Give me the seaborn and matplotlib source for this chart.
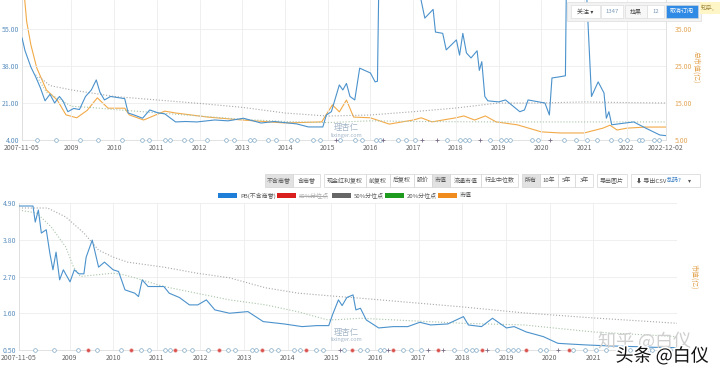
import matplotlib
matplotlib.use("Agg")
import matplotlib.pyplot as plt
import matplotlib.patheffects as pe
from matplotlib.patches import Rectangle
from matplotlib.lines import Line2D
import seaborn as sns
import pandas as pd

# ---- data ----
start_date = "2007-11-05"
end_date = "2022-12-02"

# top panel: PE (left axis)
pe_dates = ["2007-11-05", "2007-12-01", "2008-01-20", "2008-03-01", "2008-04-10", "2008-05-20",
            "2008-07-01", "2008-08-10", "2008-09-20", "2008-10-20", "2008-12-01", "2009-01-20",
            "2009-03-10", "2009-05-01", "2009-06-20", "2009-08-01", "2009-09-01", "2009-10-10",
            "2009-12-01", "2010-02-01", "2010-04-01", "2010-05-01", "2010-06-20", "2010-09-01",
            "2010-11-01", "2011-01-10", "2011-03-10", "2011-06-10", "2011-09-01", "2011-12-10",
            "2012-05-10", "2012-09-01", "2013-01-10", "2013-06-10", "2013-10-01", "2014-04-10",
            "2014-07-20", "2014-11-20", "2014-12-20", "2015-02-01", "2015-04-10", "2015-05-10",
            "2015-06-10", "2015-07-10", "2015-08-20", "2015-10-01", "2016-01-01", "2016-02-10",
            "2016-03-01", "2016-03-15", "2016-08-01", "2017-01-01", "2017-03-10", "2017-04-10",
            "2017-06-20", "2017-07-10", "2017-09-10", "2017-10-10", "2018-01-05", "2018-02-01",
            "2018-03-01", "2018-04-01", "2018-05-10", "2018-07-01", "2018-07-20", "2018-08-10",
            "2018-09-05", "2018-10-01", "2019-01-01", "2019-03-01", "2019-07-01", "2019-08-10",
            "2019-09-10", "2020-02-01", "2020-03-10", "2020-04-01", "2020-06-01", "2020-07-25",
            "2020-08-05", "2021-01-01", "2021-03-05", "2021-05-01", "2021-06-20", "2021-07-10",
            "2021-08-01", "2021-08-25", "2022-03-01", "2022-06-10", "2022-10-10", "2022-12-02"]
pe_values = [51, 45, 37.5, 33, 28, 22, 25, 21, 24, 22, 17, 18.5,
             18, 24, 27, 31.6, 26, 22.4, 24, 23.5, 23, 16.4, 15.5, 14,
             17.8, 16.5, 16, 12.3, 12.5, 12.3, 13.2, 12.8, 14, 11.8, 12.5, 11.4,
             10, 10, 15.5, 17, 29.3, 27, 30, 24, 22.4, 37, 34.8, 30.7,
             31, 85, 95, 90, 68, 60, 64, 53.6, 53, 45.4, 50, 43,
             53, 44, 41.7, 45, 36, 40, 24, 22, 21.5, 22.4, 17, 17.8,
             22.4, 21, 15.5, 32.5, 33, 33.5, 90, 95, 24, 30.7, 25.6, 14,
             17, 11, 12.3, 9.5, 6.3, 6]

pe_p50_dates = ["2008-04-01", "2008-07-01", "2009-01-01", "2010-01-01", "2011-01-01", "2012-01-01",
                "2013-01-01", "2014-01-01", "2015-01-01", "2016-01-01", "2017-01-01", "2018-01-01",
                "2019-01-01", "2020-01-01", "2021-01-01", "2022-01-01", "2022-12-02"]
pe_p50_values = [33, 29, 27, 24, 22.4, 20.8, 19, 16.4, 15, 15.5, 17, 18.7, 21, 21, 21.5, 21.2, 21]
pe_p20_dates = ["2008-03-01", "2008-06-01", "2009-01-01", "2009-06-01", "2010-01-01", "2011-01-01",
                "2012-01-01", "2013-01-01", "2014-01-01", "2015-01-01", "2016-01-01", "2017-01-01",
                "2018-01-01", "2019-01-01", "2020-01-01", "2021-01-01", "2022-01-01", "2022-12-02"]
pe_p20_values = [34, 26, 19.5, 19, 18, 16.5, 15, 13.5, 12.5, 12, 12.8, 12.5, 12.4, 12.3, 12.3, 12.3, 12.3, 12.3]

# top panel: market cap (right axis)
cap_dates = ["2007-11-05", "2007-11-25", "2007-12-15", "2008-01-20", "2008-03-10", "2008-06-01",
             "2008-09-01", "2008-11-15", "2009-02-15", "2009-05-15", "2009-08-10", "2009-11-10",
             "2010-04-01", "2010-05-10", "2010-09-10", "2011-03-10", "2011-06-10", "2012-03-10",
             "2013-01-01", "2014-01-01", "2014-11-10", "2015-02-10", "2015-04-10", "2015-06-10",
             "2015-08-10", "2016-01-01", "2016-06-10", "2017-01-01", "2017-03-10", "2017-06-10",
             "2018-01-01", "2018-03-10", "2018-06-10", "2018-09-10", "2018-12-10", "2019-06-10",
             "2020-01-01", "2020-06-10", "2021-01-01", "2021-06-10", "2021-08-10", "2021-10-10",
             "2022-01-01", "2022-06-10", "2022-12-02"]
cap_values = [50, 44, 37, 30.7, 24.5, 18.5, 15.8, 11.8, 11, 13, 16.4, 13.6,
              13.6, 11.8, 10.4, 12.8, 12.3, 11.2, 10.4, 9.6, 9.9, 14.5, 12.6, 15.8,
              11.2, 11, 9.3, 10.4, 11, 9.9, 11, 11.5, 10.4, 11.5, 9.9, 9.1,
              7.2, 6.9, 6.9, 8.2, 9, 7.7, 8.2, 8.5, 8.5]

# bottom panel: PB (left axis)
pb_dates = ["2007-11-05", "2008-03-01", "2008-03-20", "2008-04-15", "2008-05-10", "2008-06-20",
            "2008-07-20", "2008-08-15", "2008-09-10", "2008-10-10", "2008-11-10", "2009-01-05",
            "2009-02-10", "2009-03-20", "2009-05-01", "2009-05-20", "2009-07-10", "2009-09-01",
            "2009-10-20", "2010-01-01", "2010-02-15", "2010-04-10", "2010-07-01", "2010-08-01",
            "2010-09-01", "2010-10-20", "2011-03-01", "2011-04-15", "2011-07-10", "2011-10-01",
            "2011-12-10", "2012-02-20", "2012-05-01", "2012-09-01", "2013-02-01", "2013-06-10",
            "2013-12-01", "2014-05-01", "2014-09-01", "2014-12-10", "2015-01-10", "2015-03-01",
            "2015-04-01", "2015-05-10", "2015-07-01", "2015-07-25", "2015-09-01", "2015-10-20",
            "2016-02-01", "2016-06-01", "2016-10-01", "2017-01-10", "2017-04-10", "2017-09-01",
            "2018-01-10", "2018-02-20", "2018-06-10", "2018-09-10", "2019-01-05", "2019-03-10",
            "2019-06-20", "2019-11-10", "2020-03-10", "2020-06-10", "2020-11-10", "2021-06-01",
            "2022-01-01", "2022-06-01", "2022-12-02"]
pb_values = [4.81, 4.81, 4.33, 4.69, 4.0, 4.1, 3.4, 2.9, 3.43, 2.6, 2.9, 2.54,
             2.9, 2.78, 2.78, 3.28, 3.79, 2.98, 3.13, 2.9, 2.85, 2.3, 2.2, 2.1,
             2.6, 2.4, 2.4, 2.2, 2.07, 1.85, 1.85, 2.0, 1.7, 1.6, 1.65, 1.35,
             1.28, 1.2, 1.23, 1.23, 1.55, 2.0, 1.83, 2.07, 2.15, 1.7, 1.75, 1.4,
             1.16, 1.2, 1.2, 1.33, 1.25, 1.28, 1.5, 1.25, 1.2, 1.45, 1.16, 1.2,
             1.04, 0.9, 0.7, 0.68, 0.65, 0.62, 0.6, 0.58, 0.57]

pb_p50_dates = ["2007-11-05", "2008-07-01", "2008-12-01", "2009-05-01", "2009-09-01", "2010-01-01",
                "2010-05-01", "2011-03-01", "2011-12-01", "2012-09-01", "2013-07-01", "2014-04-01",
                "2015-03-01", "2015-09-01", "2018-01-01", "2019-06-01", "2021-01-01", "2022-12-02"]
pb_p50_values = [4.75, 4.75, 4.48, 4.0, 3.49, 3.28, 3.13, 2.98, 2.8, 2.66, 2.36, 2.2,
                 2.1, 2.05, 1.79, 1.61, 1.46, 1.3]
pb_p20_dates = ["2007-11-05", "2008-04-01", "2008-08-01", "2008-12-01", "2009-02-01", "2009-04-01",
                "2010-01-01", "2010-04-01", "2010-07-01", "2011-03-01", "2011-12-01", "2012-09-01",
                "2013-07-01", "2014-04-01", "2014-12-01", "2015-03-01", "2015-09-01", "2018-01-01",
                "2019-06-01", "2021-01-01", "2022-12-02"]
pb_p20_values = [4.69, 4.6, 4.18, 3.58, 3.0, 2.7, 2.8, 2.75, 2.66, 2.4, 2.2, 2.0,
                 1.85, 1.64, 1.4, 1.41, 1.45, 1.3, 1.25, 1.04, 0.9]

# event markers along the date axis
event_dates = ["2008-03-15", "2008-08-20", "2009-03-15", "2009-08-20", "2010-03-10", "2010-08-25",
               "2010-10-25", "2011-03-10", "2011-04-20", "2011-08-20", "2011-10-20", "2012-03-05",
               "2012-08-15", "2012-10-20", "2013-03-05", "2013-04-10", "2013-08-10", "2013-10-15",
               "2014-02-20", "2014-04-10", "2014-08-25", "2014-10-25", "2015-04-20", "2015-08-25",
               "2015-10-25", "2016-02-15", "2016-03-20", "2016-08-20", "2016-11-01", "2017-01-20",
               "2017-10-20", "2018-02-01", "2018-03-20", "2018-04-25", "2018-10-20", "2019-01-20",
               "2019-03-01", "2019-04-10", "2019-10-15", "2019-12-01", "2020-07-15", "2020-10-20",
               "2021-01-25", "2021-04-20", "2021-08-15", "2021-11-05", "2022-01-05", "2022-04-15",
               "2022-05-10", "2022-08-20", "2022-10-01"]
plus_dates = ["2015-03-10", "2016-04-15", "2017-03-20", "2017-07-25", "2018-07-30", "2020-03-15"]
dividend_dates = ["2009-06-01", "2010-06-01", "2011-06-01", "2012-06-01", "2013-06-01", "2014-06-01",
                  "2015-06-20", "2016-06-01", "2017-06-15", "2018-06-15", "2019-06-15", "2020-06-15"]

top_left_ticks = [4, 21, 38, 55]
top_right_ticks = [5, 15, 25, 35]
bottom_left_ticks = [0.5, 1.6, 2.7, 3.8, 4.9]
top_years = list(range(2009, 2023))
bottom_years = list(range(2009, 2022))

legend_names = ["PB(不含商誉)", "80%分位点", "50%分位点", "20%分位点", "市值"]
legend_colors = ["#1f7fd8", "#d9201e", "#666666", "#1e9a1e", "#f08c1e"]

BLUE = "#4b92cc"
ORANGE = "#f2aa48"
P50 = "#a8a8a8"
P20 = "#a9c4a9"

sns.set_style("whitegrid")
plt.rcParams['font.family'] = ['Noto Sans CJK SC', 'DejaVu Sans']
plt.rcParams['axes.unicode_minus'] = False

W, H = 720, 370
fig = plt.figure(figsize=(7.2, 3.7), dpi=100)


def fx(px):
    return px / W


def fy(py):
    return 1 - py / H


def d(lst):
    return pd.to_datetime(pd.Series(lst))


def style_axis(ax, year_list, show_end):
    ax.set_xlim(pd.Timestamp(start_date), pd.Timestamp(end_date))
    ticks = [pd.Timestamp(start_date)] + [pd.Timestamp(f"{y}-01-01") for y in year_list]
    labels = [start_date] + [str(y) for y in year_list]
    if show_end:
        ticks.append(pd.Timestamp(end_date))
        labels.append(end_date)
    ax.set_xticks(ticks)
    ax.set_xticklabels(labels)
    ax.tick_params(axis="both", length=0, labelsize=5, pad=2)
    ax.tick_params(axis="x", colors="#666666", pad=3)
    ax.grid(True, color="#ececec", linewidth=0.6)
    for s in ax.spines.values():
        s.set_color("#dddddd")
        s.set_linewidth(0.6)
    ax.spines["top"].set_visible(False)
    ax.set_xlabel("")
    ax.set_ylabel("")


def draw_events(ax, ybase, with_dividends):
    ax.scatter(d(event_dates), [ybase] * len(event_dates), s=7, marker="o", facecolors="white",
               edgecolors="#7fa7c6", linewidths=0.5, clip_on=False, zorder=6)
    ax.scatter(d(plus_dates), [ybase] * len(plus_dates), s=8, marker="+", color="#7a6a8a",
               linewidths=0.6, clip_on=False, zorder=6)
    if with_dividends:
        ax.scatter(d(dividend_dates), [ybase] * len(dividend_dates), s=7, marker="o",
                   color="#d9534f", linewidths=0.3, edgecolors="#f2b0b0", clip_on=False, zorder=7)


# ---- top panel: PE + market cap ----
ax1 = fig.add_axes([fx(22), fy(140), fx(644), 140 / H])
sns.lineplot(x=d(pe_p50_dates), y=pe_p50_values, ax=ax1, color=P50, linewidth=0.8, linestyle=":")
sns.lineplot(x=d(pe_p20_dates), y=pe_p20_values, ax=ax1, color=P20, linewidth=0.8, linestyle=":")
ax1r = ax1.twinx()
sns.lineplot(x=d(cap_dates), y=cap_values, ax=ax1r, color=ORANGE, linewidth=0.8)
sns.lineplot(x=d(pe_dates), y=pe_values, ax=ax1, color=BLUE, linewidth=0.8, zorder=5)
ax1.set_zorder(ax1r.get_zorder() + 1)
ax1.patch.set_visible(False)

ax1.set_ylim(4, 4 + 140 * 17 / 37)
ax1r.set_ylim(5, 5 + 140 * 30 / 111)
style_axis(ax1, top_years, True)
ax1.set_yticks(top_left_ticks)
ax1.set_yticklabels([f"{v:.2f}" for v in top_left_ticks], color="#5b8fbf")
ax1r.set_yticks(top_right_ticks)
ax1r.set_yticklabels([f"{v:.2f}" for v in top_right_ticks], color="#e3a656")
ax1r.tick_params(length=0, labelsize=5, pad=6)
ax1r.grid(False)
ax1r.set_ylabel("")
for s in ax1r.spines.values():
    s.set_visible(False)
draw_events(ax1, 4, False)
fig.text(fx(696), fy(67), "总市值(亿)", rotation=270, color="#e3a656", fontsize=5,
         ha="center", va="center")

# ---- bottom panel: PB ----
ax2 = fig.add_axes([fx(19), fy(350), fx(658), 147 / H])
sns.lineplot(x=d(pb_p50_dates), y=pb_p50_values, ax=ax2, color=P50, linewidth=0.8, linestyle=":")
sns.lineplot(x=d(pb_p20_dates), y=pb_p20_values, ax=ax2, color=P20, linewidth=0.8, linestyle=":")
sns.lineplot(x=d(pb_dates), y=pb_values, ax=ax2, color=BLUE, linewidth=0.8, zorder=5)
ax2.set_ylim(0.5, 4.9)
style_axis(ax2, bottom_years, False)
ax2.set_yticks(bottom_left_ticks)
ax2.set_yticklabels([f"{v:.2f}" for v in bottom_left_ticks], color="#5b8fbf")
ax2.spines["right"].set_visible(False)
draw_events(ax2, 0.5, True)
fig.text(fx(694), fy(277), "市值(亿)", rotation=270, color="#e3a656", fontsize=5,
         ha="center", va="center")

# ---- toolbar between the panels ----
buttons = [("不含商誉", 265, 293, True), ("含商誉", 293, 320, False),
           ("现金红利复权", 324, 366, False), ("前复权", 366, 390, False), ("后复权", 390, 414, False),
           ("股价", 414, 432, False), ("市值", 432, 450, True), ("流通市值", 450, 481, False),
           ("行业中位数", 481, 518, False),
           ("所有", 522, 540, True), ("10年", 540, 558, False), ("5年", 558, 575, False),
           ("3年", 575, 593, False), ("导出图片", 597, 627, False)]
for label, x0, x1, sel in buttons:
    fig.add_artist(Rectangle((fx(x0), fy(187)), fx(x1 - x0), 13 / H, transform=fig.transFigure,
                             facecolor="#e2e2e2" if sel else "white", edgecolor="#d4d4d4", linewidth=0.5))
    fig.text(fx((x0 + x1) / 2), fy(180.5), label, fontsize=4.3, color="#555555", ha="center", va="center")
fig.add_artist(Rectangle((fx(631), fy(187)), fx(69), 13 / H, transform=fig.transFigure,
                         facecolor="white", edgecolor="#d4d4d4", linewidth=0.5))
fig.text(fx(636), fy(180.5), "⬇ 导出CSV", fontsize=4.3, color="#555555", ha="left", va="center")
fig.text(fx(667), fy(180.5), "乱码?", fontsize=4.3, color="#3a7fc4", ha="left", va="center")
fig.text(fx(688), fy(180.5), "▾", fontsize=4.3, color="#555555", ha="left", va="center")

# ---- legend ----
legend_x = [218, 277, 332, 385, 438]
for name, col, x in zip(legend_names, legend_colors, legend_x):
    fig.add_artist(Rectangle((fx(x), fy(198.5)), fx(19), 5.5 / H, transform=fig.transFigure,
                             facecolor=col, edgecolor="none"))
    t = fig.text(fx(x + 22), fy(195.5), name, fontsize=4.3,
                 color="#aaaaaa" if name.startswith("80") else "#555555", ha="left", va="center")
fig.add_artist(Line2D([fx(299), fx(327)], [fy(195.5), fy(195.5)], transform=fig.transFigure,
                      color="#888888", linewidth=0.5))

# ---- overlay widgets and watermarks ----
fig.add_artist(Rectangle((fx(567), fy(21)), fx(134), 19 / H, transform=fig.transFigure,
                         facecolor="#f3f3f3", edgecolor="#dddddd", linewidth=0.5, zorder=10))
for label, x0, x1, fc, tc in [("关注 ▾", 571, 600, "white", "#444444"),
                              ("1347", 601, 623, "white", "#7a9ab8"),
                              ("拉黑", 625, 647, "#f7f7f7", "#444444"),
                              ("12", 647, 664, "white", "#7a9ab8"),
                              ("取消订阅", 666, 698, "#2f8ae6", "white")]:
    fig.add_artist(Rectangle((fx(x0), fy(18)), fx(x1 - x0), 13 / H, transform=fig.transFigure,
                             facecolor=fc, edgecolor="#d8d8d8", linewidth=0.4, zorder=11))
    fig.text(fx((x0 + x1) / 2), fy(11.5), label, fontsize=4.3, color=tc, ha="center", va="center",
             zorder=12)
fig.add_artist(Rectangle((fx(700), fy(14)), fx(20), 12 / H, transform=fig.transFigure,
                         facecolor="#fff6c8", edgecolor="none", zorder=11))
fig.text(fx(701), fy(8), "知乎,", fontsize=4.3, color="#a08a40", ha="left", va="center", zorder=12)

for yy in (127, 332):
    fig.text(fx(346), fy(yy), "理杏仁", fontsize=6, color="#a4b6c8", ha="center", va="center")
    fig.text(fx(346), fy(yy + 8), "lixinger.com", fontsize=4, color="#a4b6c8", ha="center", va="center")

fig.text(fx(645), fy(341), "知乎 @白仪", fontsize=13, color="#cfcfcf", ha="center", va="center")
fig.text(fx(662), fy(356), "头条 @白仪", fontsize=13, color="#111111", ha="center", va="center",
         path_effects=[pe.withStroke(linewidth=2.5, foreground="white")], zorder=20)

fig.savefig("out.png", dpi=100)
